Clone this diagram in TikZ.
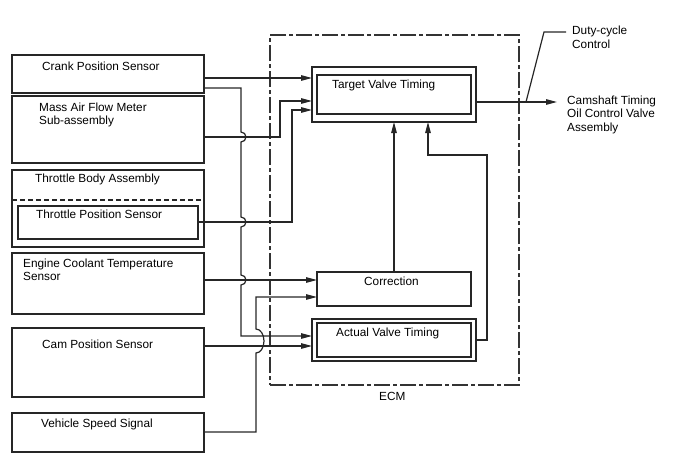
\documentclass[tikz,border=0pt]{standalone}
\usepackage{fontspec}
\setmainfont{Liberation Sans}
\usetikzlibrary{arrows.meta}

\tikzset{
  box/.style={draw=black!85, line width=1.3pt, inner sep=0pt, outer sep=0pt, anchor=north west},
  ecmbox/.style={draw=black!80, line width=1.2pt, inner sep=0pt, outer sep=0pt, anchor=north west,
    dash pattern=on 16pt off 3pt on 4pt off 3pt},
  lbl/.style={anchor=base west, inner sep=0pt, font=\fontsize{11.8}{13.5}\selectfont, align=left},
  sig/.style={draw=black!85, line width=1.2pt, -{Triangle[length=11pt,width=5.5pt]}},
  wire/.style={draw=black!85, line width=1.2pt},
}

\begin{document}
\begin{tikzpicture}[x=1pt,y=-1pt]
  \useasboundingbox (0,0) rectangle (688,463);

  % Sensors on the left
  \node[box, minimum width=192pt, minimum height=38pt] (crank) at (12,55) {};
  \node[box, minimum width=192pt, minimum height=67pt] (maf) at (12,96) {};
  \node[box, minimum width=192pt, minimum height=77pt] (tba) at (12,170) {};
  \node[box, minimum width=180pt, minimum height=33pt] (tps) at (18,206) {};
  \node[box, minimum width=192pt, minimum height=61pt] (ect) at (12,253) {};
  \node[box, minimum width=192pt, minimum height=69pt] (cam) at (12,328) {};
  \node[box, minimum width=192pt, minimum height=39pt] (vss) at (12,413) {};
  \draw[draw=black!85, line width=1.2pt, dash pattern=on 5pt off 3pt] (tba.west |- 0,200) -- (tba.east |- 0,200);

  \node[lbl] (crank-txt) at (42,70) {Crank Position Sensor};
  \node[lbl] (maf-txt) at (39,124.5) {Mass Air Flow Meter\\Sub-assembly};
  \node[lbl] (tba-txt) at (35,182) {Throttle Body Assembly};
  \node[lbl] (tps-txt) at (36,218.5) {Throttle Position Sensor};
  \node[lbl] (ect-txt) at (23,280.5) {Engine Coolant Temperature\\Sensor};
  \node[lbl] (cam-txt) at (42,348.5) {Cam Position Sensor};
  \node[lbl] (vss-txt) at (41,427) {Vehicle Speed Signal};

  % ECM
  \node[ecmbox, minimum width=249pt, minimum height=350pt] (ecm) at (270,35) {};
  \node[lbl] (ecm-txt) at (379,400) {ECM};

  \node[box, minimum width=164pt, minimum height=55pt] (tvt) at (312,67) {};
  \node[box, minimum width=154pt, minimum height=39pt] (tvt-in) at (317,75) {};
  \node[lbl] (tvt-txt) at (332,88) {Target Valve Timing};

  \node[box, minimum width=154pt, minimum height=34pt] (corr) at (317,272) {};
  \node[lbl] (corr-txt) at (364,285) {Correction};

  \node[box, minimum width=164pt, minimum height=42pt] (avt) at (312,319) {};
  \node[box, minimum width=154pt, minimum height=34pt] (avt-in) at (317,323) {};
  \node[lbl] (avt-txt) at (336,336.5) {Actual Valve Timing};

  % Output side
  \coordinate (ocv) at (557,102);
  \node[lbl] (ocv-txt) at (567,131) {Camshaft Timing\\Oil Control Valve\\Assembly};
  \coordinate (duty-lo) at (526,102);
  \coordinate (duty-hi) at (544,32);
  \coordinate (duty-end) at (566,32);
  \node[lbl] (duty-txt) at (572,48) {Duty-cycle\\Control};

  % Signals into the ECM
  \draw[sig] (crank.east |- 0,78) -- (tvt.west |- 0,78);
  \draw[sig] (crank.east |- 0,88) -- (241,88) -- (241,132)
    arc[start angle=90, end angle=-90, radius=5pt] -- (241,217)
    arc[start angle=90, end angle=-90, radius=5pt] -- (241,275)
    arc[start angle=90, end angle=-90, radius=5pt] -- (241,336) -- (avt.west |- 0,336);
  \draw[sig] (maf.east |- 0,137) -- (280,137) -- (280,101) -- (tvt.west |- 0,101);
  \draw[sig] (tps.east |- 0,222) -- (292,222) -- (292,110) -- (tvt.west |- 0,110);
  \draw[sig] (ect.east |- 0,280) -- (corr.west |- 0,280);
  \draw[sig] (cam.east |- 0,346) -- (avt.west |- 0,346);
  \draw[sig] (vss.east |- 0,432) -- (256,432) -- (256,353)
    arc[start angle=-90, end angle=90, x radius=8pt, y radius=12pt] -- (256,297) -- (corr.west |- 0,297);

  % Inside the ECM
  \draw[sig] (corr.north) -- (tvt.south);
  \draw[sig] (avt.east |- 0,340) -- (487,340) -- (487,155) -- (428,155) -- (tvt.south -| 428,0);

  % Output
  \draw[sig] (tvt.east |- ocv) -- (ocv);
  \draw[wire] (duty-lo) -- (duty-hi) -- (duty-end);

\end{tikzpicture}
\end{document}
